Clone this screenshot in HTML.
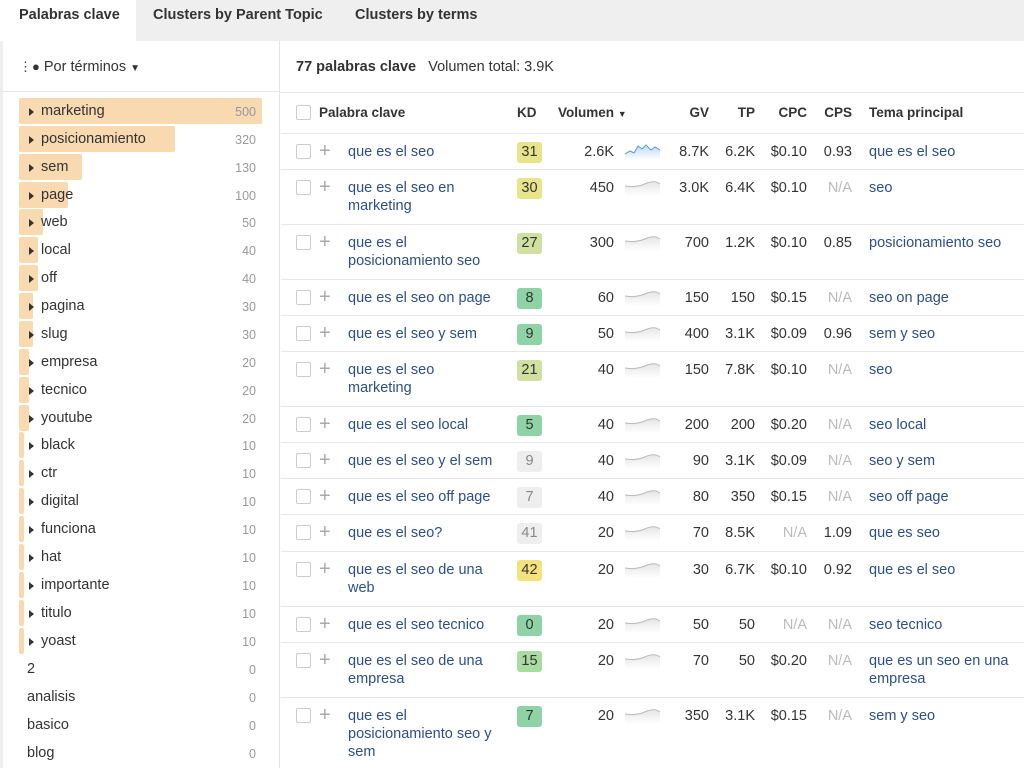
<!DOCTYPE html><html><head><meta charset="utf-8"><style>
*{margin:0;padding:0;box-sizing:border-box}
body{width:1024px;height:768px;overflow:hidden;background:#fff;font-family:"Liberation Sans",Arial,sans-serif;color:#333;position:relative}
.tabs{position:absolute;left:0;top:0;width:1024px;height:41px;background:#efefef}
.tab{position:absolute;top:7px;font-size:14.5px;font-weight:bold;color:#333}
.act{position:absolute;left:0;top:0;width:136px;height:42px;background:#fff}
.lp{position:absolute;left:0;top:41px;width:280px;height:727px;border-right:1px solid #e4e4e4;border-left:3px solid #eee}
.li{position:absolute;left:19px;height:26px;width:245px;font-size:14.5px}
.bar{position:absolute;left:0;top:0;height:26px;background:#f9d9b0;border-radius:2px}
.li .t{position:absolute;left:22px;top:5px}
.li .tri{position:absolute;left:10px;top:10px;width:0;height:0;border-left:5px solid #333;border-top:4px solid transparent;border-bottom:4px solid transparent}
.li .n{position:absolute;right:8px;top:7px;font-size:12.5px;color:#999}
.li.z .t{left:8px}
.r{position:absolute;left:281px;width:743px;border-top:1px solid #e8e8e8;font-size:14.5px}
.r>*{position:absolute;line-height:18px}
.cb{left:15px;top:10px;width:15px;height:15px;border:1px solid #ccc;border-radius:2px}
.pl{left:38px;top:7px;font-size:20px;color:#aaa;line-height:20px}
.kw{left:67px;top:9px;color:#2c4f85;width:160px}
.kd{left:236px;top:8px;width:25px;height:21px;border-radius:3px;text-align:center;line-height:21px;color:#333}
.vol{right:410px;top:9px}
.sp{left:344px;top:6px}
.gv{right:315px;top:9px}.tp{right:269px;top:9px}.cpc{right:217px;top:9px}.cps{right:172px;top:9px}
.na{color:#bbb}
.tm{left:588px;top:9px;color:#2c4f85;width:150px}
.y{background:#e8e48a}.yg{background:#cfe0a0}.g{background:#8dd3a6}.gr{background:#eee;color:#888!important}.yy{background:#f5e27c}.lg{background:#a9dca0}
</style></head><body>
<div class="tabs"><div class="act"></div>
<div class="tab" style="left:19px">Palabras clave</div>
<div class="tab" style="left:153px">Clusters by Parent Topic</div>
<div class="tab" style="left:355px">Clusters by terms</div></div>
<div class="lp"></div>
<div style="position:absolute;left:19px;top:59px;font-size:14.5px"><span style="font-size:13px">&#8942;&#9679;</span> Por términos <span style="font-size:10px">&#9660;</span></div>
<div style="position:absolute;left:0;top:91px;width:279px;border-top:1px solid #e8e8e8"></div>
<div style="position:absolute;left:280px;top:41px;width:744px;height:52px;border-bottom:1px solid #e8e8e8"></div>
<div style="position:absolute;left:296px;top:59px;font-size:14.5px"><b>77 palabras clave</b> &nbsp; Volumen total: 3.9K</div>

<div class="li" style="top:98px"><div class="bar" style="width:243px"></div><div class="tri"></div><div class="t">marketing</div><div class="n">500</div></div>
<div class="li" style="top:126px"><div class="bar" style="width:156px"></div><div class="tri"></div><div class="t">posicionamiento</div><div class="n">320</div></div>
<div class="li" style="top:154px"><div class="bar" style="width:63px"></div><div class="tri"></div><div class="t">sem</div><div class="n">130</div></div>
<div class="li" style="top:182px"><div class="bar" style="width:49px"></div><div class="tri"></div><div class="t">page</div><div class="n">100</div></div>
<div class="li" style="top:209px"><div class="bar" style="width:24px"></div><div class="tri"></div><div class="t">web</div><div class="n">50</div></div>
<div class="li" style="top:237px"><div class="bar" style="width:19px"></div><div class="tri"></div><div class="t">local</div><div class="n">40</div></div>
<div class="li" style="top:265px"><div class="bar" style="width:19px"></div><div class="tri"></div><div class="t">off</div><div class="n">40</div></div>
<div class="li" style="top:293px"><div class="bar" style="width:14px"></div><div class="tri"></div><div class="t">pagina</div><div class="n">30</div></div>
<div class="li" style="top:321px"><div class="bar" style="width:14px"></div><div class="tri"></div><div class="t">slug</div><div class="n">30</div></div>
<div class="li" style="top:349px"><div class="bar" style="width:10px"></div><div class="tri"></div><div class="t">empresa</div><div class="n">20</div></div>
<div class="li" style="top:377px"><div class="bar" style="width:10px"></div><div class="tri"></div><div class="t">tecnico</div><div class="n">20</div></div>
<div class="li" style="top:405px"><div class="bar" style="width:10px"></div><div class="tri"></div><div class="t">youtube</div><div class="n">20</div></div>
<div class="li" style="top:432px"><div class="bar" style="width:5px"></div><div class="tri"></div><div class="t">black</div><div class="n">10</div></div>
<div class="li" style="top:460px"><div class="bar" style="width:5px"></div><div class="tri"></div><div class="t">ctr</div><div class="n">10</div></div>
<div class="li" style="top:488px"><div class="bar" style="width:5px"></div><div class="tri"></div><div class="t">digital</div><div class="n">10</div></div>
<div class="li" style="top:516px"><div class="bar" style="width:5px"></div><div class="tri"></div><div class="t">funciona</div><div class="n">10</div></div>
<div class="li" style="top:544px"><div class="bar" style="width:5px"></div><div class="tri"></div><div class="t">hat</div><div class="n">10</div></div>
<div class="li" style="top:572px"><div class="bar" style="width:5px"></div><div class="tri"></div><div class="t">importante</div><div class="n">10</div></div>
<div class="li" style="top:600px"><div class="bar" style="width:5px"></div><div class="tri"></div><div class="t">titulo</div><div class="n">10</div></div>
<div class="li" style="top:628px"><div class="bar" style="width:5px"></div><div class="tri"></div><div class="t">yoast</div><div class="n">10</div></div>
<div class="li z" style="top:656px"><div class="t">2</div><div class="n">0</div></div>
<div class="li z" style="top:684px"><div class="t">analisis</div><div class="n">0</div></div>
<div class="li z" style="top:712px"><div class="t">basico</div><div class="n">0</div></div>
<div class="li z" style="top:740px"><div class="t">blog</div><div class="n">0</div></div>

<svg width="0" height="0" style="position:absolute"><defs>
<linearGradient id="gg" x1="0" y1="0" x2="0" y2="1"><stop offset="0" stop-color="#e6e6e6"/><stop offset="1" stop-color="#fff"/></linearGradient>
<linearGradient id="gb" x1="0" y1="0" x2="0" y2="1"><stop offset="0" stop-color="#bcd9f2"/><stop offset="1" stop-color="#fff"/></linearGradient></defs></svg>

<div class="r" style="top:93px;height:40px;border-top:none;font-weight:bold;font-size:13.5px">
<div class="cb" style="top:12px"></div><div style="left:38px;top:11px">Palabra clave</div>
<div style="left:236px;top:11px">KD</div><div style="left:277px;top:11px">Volumen <span style="font-size:9px">&#9660;</span></div>
<div style="right:315px;top:11px">GV</div><div style="right:269px;top:11px">TP</div><div style="right:217px;top:11px">CPC</div><div style="right:172px;top:11px">CPS</div><div style="left:588px;top:11px">Tema principal</div></div>

<div class="r" style="top:133px;height:36px"><div class="cb"></div><div class="pl">+</div><div class="kw">que es el seo</div><div class="kd y">31</div><div class="vol">2.6K</div><svg class="sp" width="36" height="20"><path d="M0 14 L5 11 L9 13 L13 6 L17 9 L21 5 L26 10 L30 7 L35 10 L35 20 L0 20Z" fill="url(#gb)"/><path d="M0 14 L5 11 L9 13 L13 6 L17 9 L21 5 L26 10 L30 7 L35 10" stroke="#5a9bd5" fill="none"/></svg><div class="gv">8.7K</div><div class="tp">6.2K</div><div class="cpc">$0.10</div><div class="cps">0.93</div><div class="tm">que es el seo</div></div>

<div class="r" style="top:169px;height:55px"><div class="cb"></div><div class="pl">+</div><div class="kw">que es el seo en<br>marketing</div><div class="kd y">30</div><div class="vol">450</div><svg class="sp" width="36" height="20"><path d="M0 10 Q12 12 22 7 Q30 4 35 8 L35 20 L0 20Z" fill="url(#gg)"/><path d="M0 10 Q12 12 22 7 Q30 4 35 8" stroke="#bbb" fill="none"/></svg><div class="gv">3.0K</div><div class="tp">6.4K</div><div class="cpc">$0.10</div><div class="cps na">N/A</div><div class="tm">seo</div></div>

<div class="r" style="top:224px;height:55px"><div class="cb"></div><div class="pl">+</div><div class="kw">que es el<br>posicionamiento seo</div><div class="kd yg">27</div><div class="vol">300</div><svg class="sp" width="36" height="20"><path d="M0 10 Q12 12 22 7 Q30 4 35 8 L35 20 L0 20Z" fill="url(#gg)"/><path d="M0 10 Q12 12 22 7 Q30 4 35 8" stroke="#bbb" fill="none"/></svg><div class="gv">700</div><div class="tp">1.2K</div><div class="cpc">$0.10</div><div class="cps">0.85</div><div class="tm">posicionamiento seo</div></div>

<div class="r" style="top:279px;height:36px"><div class="cb"></div><div class="pl">+</div><div class="kw">que es el seo on page</div><div class="kd g">8</div><div class="vol">60</div><svg class="sp" width="36" height="20"><path d="M0 10 Q12 12 22 7 Q30 4 35 8 L35 20 L0 20Z" fill="url(#gg)"/><path d="M0 10 Q12 12 22 7 Q30 4 35 8" stroke="#bbb" fill="none"/></svg><div class="gv">150</div><div class="tp">150</div><div class="cpc">$0.15</div><div class="cps na">N/A</div><div class="tm">seo on page</div></div>

<div class="r" style="top:315px;height:36px"><div class="cb"></div><div class="pl">+</div><div class="kw">que es el seo y sem</div><div class="kd g">9</div><div class="vol">50</div><svg class="sp" width="36" height="20"><path d="M0 10 Q12 12 22 7 Q30 4 35 8 L35 20 L0 20Z" fill="url(#gg)"/><path d="M0 10 Q12 12 22 7 Q30 4 35 8" stroke="#bbb" fill="none"/></svg><div class="gv">400</div><div class="tp">3.1K</div><div class="cpc">$0.09</div><div class="cps">0.96</div><div class="tm">sem y seo</div></div>

<div class="r" style="top:351px;height:55px"><div class="cb"></div><div class="pl">+</div><div class="kw">que es el seo<br>marketing</div><div class="kd yg">21</div><div class="vol">40</div><svg class="sp" width="36" height="20"><path d="M0 10 Q12 12 22 7 Q30 4 35 8 L35 20 L0 20Z" fill="url(#gg)"/><path d="M0 10 Q12 12 22 7 Q30 4 35 8" stroke="#bbb" fill="none"/></svg><div class="gv">150</div><div class="tp">7.8K</div><div class="cpc">$0.10</div><div class="cps na">N/A</div><div class="tm">seo</div></div>

<div class="r" style="top:406px;height:36px"><div class="cb"></div><div class="pl">+</div><div class="kw">que es el seo local</div><div class="kd g">5</div><div class="vol">40</div><svg class="sp" width="36" height="20"><path d="M0 10 Q12 12 22 7 Q30 4 35 8 L35 20 L0 20Z" fill="url(#gg)"/><path d="M0 10 Q12 12 22 7 Q30 4 35 8" stroke="#bbb" fill="none"/></svg><div class="gv">200</div><div class="tp">200</div><div class="cpc">$0.20</div><div class="cps na">N/A</div><div class="tm">seo local</div></div>

<div class="r" style="top:442px;height:36px"><div class="cb"></div><div class="pl">+</div><div class="kw">que es el seo y el sem</div><div class="kd gr">9</div><div class="vol">40</div><svg class="sp" width="36" height="20"><path d="M0 10 Q12 12 22 7 Q30 4 35 8 L35 20 L0 20Z" fill="url(#gg)"/><path d="M0 10 Q12 12 22 7 Q30 4 35 8" stroke="#bbb" fill="none"/></svg><div class="gv">90</div><div class="tp">3.1K</div><div class="cpc">$0.09</div><div class="cps na">N/A</div><div class="tm">seo y sem</div></div>

<div class="r" style="top:478px;height:36px"><div class="cb"></div><div class="pl">+</div><div class="kw">que es el seo off page</div><div class="kd gr">7</div><div class="vol">40</div><svg class="sp" width="36" height="20"><path d="M0 10 Q12 12 22 7 Q30 4 35 8 L35 20 L0 20Z" fill="url(#gg)"/><path d="M0 10 Q12 12 22 7 Q30 4 35 8" stroke="#bbb" fill="none"/></svg><div class="gv">80</div><div class="tp">350</div><div class="cpc">$0.15</div><div class="cps na">N/A</div><div class="tm">seo off page</div></div>

<div class="r" style="top:514px;height:37px"><div class="cb"></div><div class="pl">+</div><div class="kw">que es el seo?</div><div class="kd gr">41</div><div class="vol">20</div><svg class="sp" width="36" height="20"><path d="M0 10 Q12 12 22 7 Q30 4 35 8 L35 20 L0 20Z" fill="url(#gg)"/><path d="M0 10 Q12 12 22 7 Q30 4 35 8" stroke="#bbb" fill="none"/></svg><div class="gv">70</div><div class="tp">8.5K</div><div class="cpc na">N/A</div><div class="cps">1.09</div><div class="tm">que es seo</div></div>

<div class="r" style="top:551px;height:55px"><div class="cb"></div><div class="pl">+</div><div class="kw">que es el seo de una<br>web</div><div class="kd yy">42</div><div class="vol">20</div><svg class="sp" width="36" height="20"><path d="M0 10 Q12 12 22 7 Q30 4 35 8 L35 20 L0 20Z" fill="url(#gg)"/><path d="M0 10 Q12 12 22 7 Q30 4 35 8" stroke="#bbb" fill="none"/></svg><div class="gv">30</div><div class="tp">6.7K</div><div class="cpc">$0.10</div><div class="cps">0.92</div><div class="tm">que es el seo</div></div>

<div class="r" style="top:606px;height:36px"><div class="cb"></div><div class="pl">+</div><div class="kw">que es el seo tecnico</div><div class="kd g">0</div><div class="vol">20</div><svg class="sp" width="36" height="20"><path d="M0 10 Q12 12 22 7 Q30 4 35 8 L35 20 L0 20Z" fill="url(#gg)"/><path d="M0 10 Q12 12 22 7 Q30 4 35 8" stroke="#bbb" fill="none"/></svg><div class="gv">50</div><div class="tp">50</div><div class="cpc na">N/A</div><div class="cps na">N/A</div><div class="tm">seo tecnico</div></div>

<div class="r" style="top:642px;height:55px"><div class="cb"></div><div class="pl">+</div><div class="kw">que es el seo de una<br>empresa</div><div class="kd lg">15</div><div class="vol">20</div><svg class="sp" width="36" height="20"><path d="M0 10 Q12 12 22 7 Q30 4 35 8 L35 20 L0 20Z" fill="url(#gg)"/><path d="M0 10 Q12 12 22 7 Q30 4 35 8" stroke="#bbb" fill="none"/></svg><div class="gv">70</div><div class="tp">50</div><div class="cpc">$0.20</div><div class="cps na">N/A</div><div class="tm">que es un seo en una<br>empresa</div></div>

<div class="r" style="top:697px;height:71px"><div class="cb"></div><div class="pl">+</div><div class="kw">que es el<br>posicionamiento seo y<br>sem</div><div class="kd g">7</div><div class="vol">20</div><svg class="sp" width="36" height="20"><path d="M0 10 Q12 12 22 7 Q30 4 35 8 L35 20 L0 20Z" fill="url(#gg)"/><path d="M0 10 Q12 12 22 7 Q30 4 35 8" stroke="#bbb" fill="none"/></svg><div class="gv">350</div><div class="tp">3.1K</div><div class="cpc">$0.15</div><div class="cps na">N/A</div><div class="tm">sem y seo</div></div>
</body></html>
